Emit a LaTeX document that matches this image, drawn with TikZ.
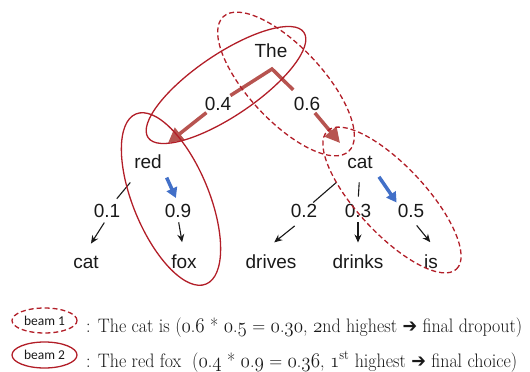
\documentclass[tikz,border=0pt]{standalone}
\usepackage{fontspec}
\setsansfont{Liberation Sans}
\newfontfamily\carlito{Carlito}
\newfontfamily\dejavu{DejaVu Sans}
\usetikzlibrary{arrows.meta,shapes.geometric}
\definecolor{ered}{RGB}{178,30,40}
\definecolor{arrred}{RGB}{183,84,80}
\definecolor{arrblue}{RGB}{66,112,200}
\definecolor{ink}{RGB}{25,25,25}
\newcommand\osn[1]{{\usefont{OML}{cmm}{m}{it}#1}}
\newcommand\legarrow{{\dejavu\fontsize{19}{20}\selectfont ➔}}
\begin{document}
\begin{tikzpicture}[x=1pt,y=-1pt,
  lab/.style={font=\sffamily\fontsize{19}{22}\selectfont, text=ink, inner sep=1pt, anchor=base},
  bigline/.style={draw=arrred, line width=3.5pt},
  bigarrow/.style={bigline, -{Triangle[length=15pt,width=15pt]}},
  bluearrow/.style={draw=arrblue, line width=3.5pt, -{Triangle[length=10pt,width=11pt]}},
  blk/.style={draw=ink, line width=1.1pt},
  blkarrow/.style={blk, -{Stealth[length=8pt,width=7pt]}},
  ell/.style={draw=ered, line width=1.3pt, ellipse, inner sep=0pt},
  dsh/.style={dash pattern=on 5pt off 3pt},
  legend/.style={anchor=base west, inner sep=0pt, text=ink, font=\fontsize{19.5}{24}\selectfont}
]
\useasboundingbox (0,0) rectangle (530,372);

% tree nodes
\node[lab] (The) at (271,57) {The};
\node[lab] (p04) at (218,110) {0.4};
\node[lab] (p06) at (307,110) {0.6};
\node[lab] (red) at (148,168) {red};
\node[lab] (cat) at (360,168) {cat};
\node[lab] (p01) at (107,217) {0.1};
\node[lab] (p09) at (178,217) {0.9};
\node[lab] (p02) at (304,217) {0.2};
\node[lab] (p03) at (358,217) {0.3};
\node[lab] (p05) at (411,217) {0.5};
\node[lab] (lcat) at (86,268) {cat};
\node[lab] (fox) at (184,268) {fox};
\node[lab] (drives) at (271,268) {drives};
\node[lab] (drinks) at (358,268) {drinks};
\node[lab] (is) at (431,268) {is};

% thick red arrows
\coordinate (apex) at (272,69);
\coordinate (tipL) at (168,143);
\coordinate (tipR) at (340,143);
\draw[bigline, shorten >=8pt] (p04) -- (apex) -- (p06);
\draw[bigarrow, shorten <=2pt] (p04) -- (tipL);
\draw[bigarrow, shorten <=2pt] (p06) -- (tipR);

% blue arrows
\draw[bluearrow, shorten <=9pt, shorten >=5pt] (red.south east) -- (p09.north);
\draw[bluearrow, shorten <=9pt] (cat.south east) -- (p05.north west);

% thin black connectors
\draw[blk, shorten <=17pt, shorten >=5pt] (red) -- (p01);
\draw[blkarrow, shorten <=5pt, shorten >=13pt] (p01.south) -- ([xshift=-2pt]lcat.north);
\draw[blkarrow, shorten <=4pt, shorten >=11pt] (p09.south) -- (fox.north);
\draw[blk, shorten <=20pt] (cat) -- (p02);
\draw[blkarrow, shorten <=12pt, shorten >=17pt] (p02.south) -- ([xshift=-10pt]drives.north);
\draw[blk, shorten <=13pt, shorten >=6pt] (cat.south) -- (p03.north);
\draw[blkarrow, shorten <=4pt, shorten >=10.5pt] (p03.south) -- (drinks.north);
\draw[blkarrow, shorten <=9pt, shorten >=14pt] (p05.south) -- (is.north east);

% beam ellipses
\node[ell, minimum width=188pt, minimum height=62pt, rotate=34] (e1) at (226,85) {};
\node[ell, dsh, minimum width=184pt, minimum height=74pt, rotate=-47] (e2) at (286,84) {};
\node[ell, minimum width=184pt, minimum height=76pt, rotate=-67.6] (e3) at (171,199) {};
\node[ell, dsh, minimum width=189pt, minimum height=68pt, rotate=-47] (e4) at (392,200) {};

% legend
\node[ell, dsh, minimum width=65pt, minimum height=25pt, text=ink, font=\carlito\fontsize{13.5}{15}\selectfont] (b1) at (44.5,320.5) {beam 1};
\node[ell, minimum width=65pt, minimum height=26pt, text=ink, font=\carlito\fontsize{13.5}{15}\selectfont] (b2) at (44.5,355) {beam 2};
\node[legend] (t1) at (86,332) {\resizebox{436pt}{\height}{: The cat is (\osn{0}.\osn{6} * \osn{0}.\osn{5} = \osn{0}.\osn{30}, \osn{2}nd highest \legarrow{} final dropout)}};
\node[legend] (t2) at (86,367) {\resizebox{431pt}{\height}{: The red fox\ \ (\osn{0}.\osn{4} * \osn{0}.\osn{9} = \osn{0}.\osn{36}, \osn{1}\textsuperscript{st} highest \legarrow{} final choice)}};
\end{tikzpicture}
\end{document}
